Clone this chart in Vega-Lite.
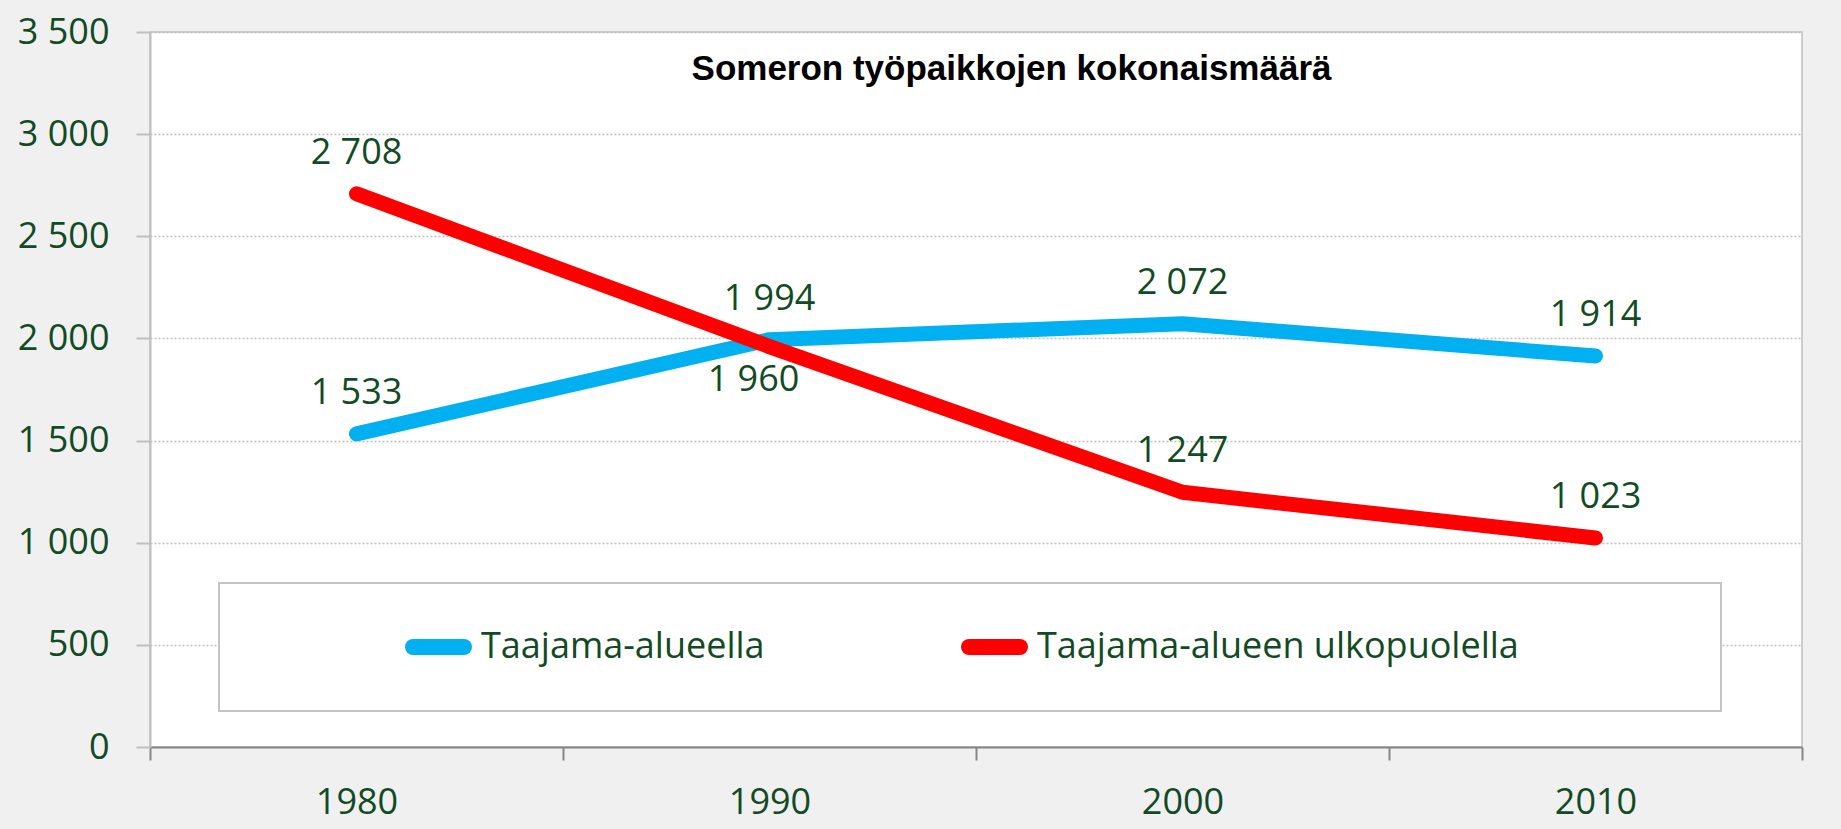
{
  "$schema": "https://vega.github.io/schema/vega-lite/v6.json",
  "autosize": "none",
  "width": 1652,
  "height": 715,
  "padding": {"left": 150, "top": 32, "right": 39, "bottom": 82},
  "background": "#f0f0f0",
  "config": {
    "locale": {"number": {"decimal": ",", "thousands": " ", "grouping": [3], "currency": ["", " €"]}},
    "view": {"fill": "white", "stroke": "#c0c0c0", "strokeWidth": 1.5}
  },
  "data": {
    "values": [
      {"year": "1980", "series": "Taajama-alueella", "value": 1533},
      {"year": "1990", "series": "Taajama-alueella", "value": 1994},
      {"year": "2000", "series": "Taajama-alueella", "value": 2072},
      {"year": "2010", "series": "Taajama-alueella", "value": 1914},
      {"year": "1980", "series": "Taajama-alueen ulkopuolella", "value": 2708},
      {"year": "1990", "series": "Taajama-alueen ulkopuolella", "value": 1960},
      {"year": "2000", "series": "Taajama-alueen ulkopuolella", "value": 1247},
      {"year": "2010", "series": "Taajama-alueen ulkopuolella", "value": 1023}
    ]
  },
  "encoding": {
    "x": {
      "field": "year", "type": "ordinal",
      "scale": {"paddingInner": 0, "paddingOuter": 0},
      "axis": {
        "title": null, "labelAngle": 0, "tickBand": "extent",
        "labelFont": "Open Sans", "labelFontSize": 36, "labelColor": "#124a24",
        "labelPadding": 25, "tickSize": 13, "tickColor": "#868686", "tickWidth": 2,
        "domainColor": "#868686", "domainWidth": 2, "grid": false
      }
    },
    "y": {
      "field": "value", "type": "quantitative",
      "scale": {"domain": [0, 3500], "nice": false},
      "axis": {
        "title": "Someron työpaikkojen kokonaismäärä",
        "titleFont": "Liberation Sans", "titleFontSize": 35, "titleFontWeight": "bold", "titleColor": "#000000",
        "titleAngle": 0, "titleAlign": "center", "titleBaseline": "alphabetic", "titleX": 861, "titleY": 47,
        "values": [0, 500, 1000, 1500, 2000, 2500, 3000, 3500],
        "format": ",d",
        "labelFont": "Open Sans", "labelFontSize": 36, "labelColor": "#124a24",
        "labelPadding": 27, "tickSize": 14, "tickColor": "#bfbfbf", "tickWidth": 2,
        "domainColor": "#bfbfbf", "domainWidth": 2,
        "grid": true, "gridColor": "#bfbfbf", "gridDash": [2, 2], "gridWidth": 1.5
      }
    }
  },
  "layer": [
    {
      "mark": {"type": "line", "strokeWidth": 15, "strokeCap": "round", "strokeJoin": "round"},
      "encoding": {
        "color": {
          "field": "series", "type": "nominal",
          "scale": {"domain": ["Taajama-alueella", "Taajama-alueen ulkopuolella"], "range": ["#00b0f0", "#ff0000"]},
          "legend": {
            "title": null, "orient": "none", "legendX": 69, "legendY": 551, "direction": "horizontal",
            "fillColor": "white", "strokeColor": "#c4c4c4", "padding": 46, "clipHeight": 36,
            "symbolType": "stroke", "symbolStrokeWidth": 16, "symbolSize": 2601, "symbolOffset": 140,
            "labelFont": "Open Sans", "labelFontSize": 36, "labelColor": "#124a24", "labelOffset": 9,
            "labelLimit": 1000, "columnPadding": 56,
            "encode": {
              "legend": {"update": {"strokeWidth": {"value": 2}}},
              "symbols": {"update": {"strokeCap": {"value": "round"}}},
              "entries": {"update": {"width": {"signal": "datum.index === 1 ? 854 : 0"}}}
            }
          }
        }
      }
    },
    {
      "transform": [{"filter": "!(datum.year === '1990' && datum.series === 'Taajama-alueen ulkopuolella')"}],
      "mark": {"type": "text", "font": "Open Sans", "fontSize": 36, "color": "#124a24", "baseline": "alphabetic", "dy": -30},
      "encoding": {"text": {"field": "value", "type": "quantitative", "format": ",d"}}
    },
    {
      "transform": [{"filter": "datum.year === '1990' && datum.series === 'Taajama-alueen ulkopuolella'"}],
      "mark": {"type": "text", "font": "Open Sans", "fontSize": 36, "color": "#124a24", "baseline": "alphabetic", "dy": 44, "dx": -16},
      "encoding": {"text": {"field": "value", "type": "quantitative", "format": ",d"}}
    }
  ]
}
